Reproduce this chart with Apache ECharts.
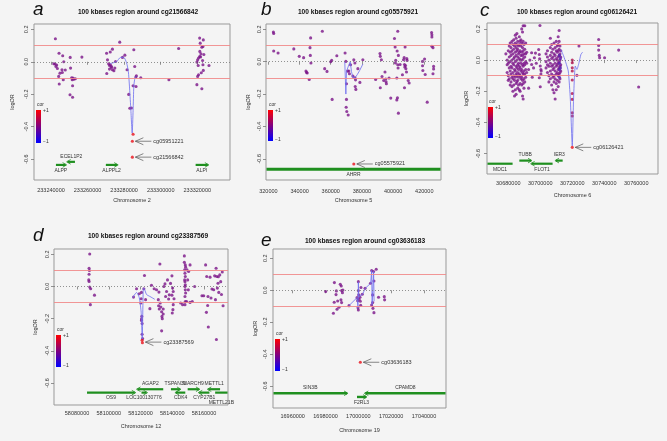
<!DOCTYPE html>
<html><head><meta charset="utf-8">
<script src="https://cdn.jsdelivr.net/npm/echarts@6/dist/echarts.min.js"></script>
<style>html,body{margin:0;padding:0;background:#f4f4f4}#c{width:667px;height:441px}</style>
</head><body><div id="c"></div>
<script>
// ---------------- DATA ----------------
const yTickVals = [-0.6, -0.4, -0.2, 0, 0.2];

// Panel a
const titleA = '100 kbases region around cg21566842';
const chromA = 'Chromosome 2';
const xTicksA = [233240000, 233260000, 233280000, 233300000, 233320000];
const pointsA = [
 [233242400,0.142],[233244400,0.053],[233246400,0.037],[233241500,-0.012],[233242200,-0.014],[233242700,-0.029],
 [233243100,-0.02],[233243500,-0.041],[233244200,-0.09],[233244500,-0.137],[233246000,-0.049],[233246200,-0.066],
 [233246700,-0.111],[233247800,-0.051],[233250500,0.027],[233250700,-0.039],[233251300,-0.098],[233251600,-0.111],
 [233252000,-0.1],[233252500,-0.107],[233253300,-0.105],[233251800,-0.148],[233250400,-0.203],[233251800,-0.219],
 [233256900,0.029],[233244900,-0.07],[233247000,0.0],
 [233270400,0.053],[233272400,0.06],[233273600,0.078],[233270900,0.012],[233271500,-0.012],[233272000,-0.023],
 [233272500,-0.018],[233273100,-0.029],[233270500,-0.072],[233273600,-0.049],[233274400,-0.055],[233274900,-0.039],
 [233275300,0.002],[233277600,0.121],[233279100,0.027],[233280400,0.041],[233281600,-0.049],[233282500,-0.201],
 [233283100,-0.287],[233284000,-0.285],[233285300,0.074],[233284900,-0.148],[233285800,-0.029],[233286400,-0.094],
 [233286700,-0.086],[233286500,-0.152],[233289100,-0.098],[233272000,-0.045],[233273000,-0.035],
 [233304500,-0.111],[233309800,0.082],
 [233321300,0.146],[233323300,0.135],[233321600,0.115],[233322500,0.09],[233323100,0.094],[233321400,0.064],
 [233322000,0.049],[233321300,0.033],[233320700,0.023],[233320200,0.012],[233319800,-0.002],[233320500,-0.023],
 [233323600,0.045],[233326400,-0.023],[233323100,-0.018],[233320700,-0.08],[233320200,-0.09],[233322200,-0.068],
 [233323300,-0.053],[233319800,-0.141],[233322500,-0.166],[233322900,0.008],[233321800,0.03]
];
const redA = [[233284900,-0.447],[233284500,-0.49],[233284500,-0.588]];
const fitA = [[233272500,-0.01],[233275800,0.0],[233278000,0.027],[233279800,0.027],[233281300,-0.005],[233282300,-0.06],
 [233282900,-0.15],[233283600,-0.28],[233284400,-0.44],[233284900,-0.3],[233285300,-0.15],[233285900,-0.1],[233286700,-0.088]];
const annNamesA = ['cg05951221','cg21566842'];
const annPtsA = [[233284500,-0.49],[233284500,-0.588]];
const geneNamesA = ['ALPP','ECEL1P2','ALPPL2','ALPI'];
const geneStartA = [233242700,233249100,233270000,233319100];
const geneEndA = [233248000,233253100,233276200,233325800];
const geneRowA = [1,0,1,1];
const geneStrandA = [1,-1,1,1];

// Panel b
const titleB = '100 kbases region around cg05575921';
const chromB = 'Chromosome 5';
const xTicksB = [320000, 340000, 360000, 380000, 400000, 420000];
const pointsB = [
 [323200,0.184],[323400,0.174],[323400,0.066],[326200,0.054],[336300,0.079],[339800,0.033],[342600,0.025],
 [344100,-0.058],[344500,-0.066],[344900,-0.07],[346200,-0.11],[346700,0.087],[346900,0.039],[347300,-0.008],
 [347100,0.147],[354600,0.188],[356100,-0.043],[357600,-0.06],[360000,0.0],[360600,0.008],[360900,-0.233],
 [363900,0.037],[369200,0.054],[369700,0.002],[370100,-0.136],[370100,-0.233],[369900,-0.281],[370300,-0.308],
 [371200,-0.329],[370800,-0.058],[371600,-0.058],[372000,-0.074],[372700,-0.019],[374200,-0.089],[374800,0.012],
 [375500,-0.008],[375500,-0.099],[375700,-0.153],[376100,-0.171],[375900,-0.112],[377400,-0.043],[378700,-0.128],
 [380600,0.012],
 [391600,0.05],[391800,0.033],[392500,0.012],[388800,-0.11],[391800,-0.161],[392900,-0.091],[394000,-0.116],
 [394800,-0.064],[395300,-0.107],[395500,-0.124],[395700,-0.136],[398500,-0.225],[397400,-0.101],[400900,0.143],
 [401300,0.091],[401700,0.008],[401500,-0.008],[402400,-0.101],[402400,-0.236],[402800,-0.223],[402600,0.066],
 [403000,0.188],[403400,0.039],[403000,-0.019],[403200,-0.039],[404500,-0.017],[406000,-0.081],[406700,0.012],
 [407100,0.025],[407300,-0.017],[407500,-0.033],[407700,0.091],[408000,-0.023],[408200,-0.043],[408600,-0.064],
 [407300,-0.161],[408800,0.019],[409000,0.008],[409700,-0.116],[410300,-0.132],[403400,-0.318],
 [418900,0.002],[418900,-0.025],[419100,-0.054],[420200,0.017],[420600,-0.079],[421900,-0.25],[424700,0.18],
 [424900,0.167],[424900,0.153],[424900,0.095],[425600,0.087],[426000,-0.029],[426000,-0.045],[425600,-0.074]
];
const redB = [[374800,-0.632]];
const fitB = [[369000,0.0],[369700,-0.2],[370100,-0.06],[370800,-0.06],[371600,-0.02],[372500,0.0],[373300,-0.06],
 [374200,-0.1],[375000,-0.1],[375900,-0.095],[377000,-0.08],[378500,-0.055],[380600,-0.015]];
const annNamesB = ['cg05575921'];
const annPtsB = [[374800,-0.632]];
const geneNamesB = ['AHRR'];
const geneStartB = [300000];
const geneEndB = [460000];
const geneRowB = [1];
const geneStrandB = [0];

// Panel c  (columns: x, then the values found at that position)
const titleC = '100 kbases region around cg06126421';
const chromC = 'Chromosome 6';
const xTicksC = [30680000, 30700000, 30720000, 30740000, 30760000];
const columnsC = [
 [30678500,0.04],[30679300,0.0,-0.03,-0.08],[30680000,0.06,-0.02,-0.1,-0.13],[30680600,0.09,0.02,-0.05,-0.12],
 [30681200,0.11,0.05,-0.01,-0.07,-0.16],[30681700,0.08,0.03,-0.04,-0.09,-0.14],
 [30682300,0.12,0.06,0.0,-0.05,-0.11,-0.17],[30682900,0.1,0.04,-0.02,-0.08,-0.12,-0.2],
 [30683400,0.13,0.07,0.01,-0.03,-0.1,-0.16],[30683900,0.09,0.02,-0.06,-0.13,-0.23],
 [30684400,0.16,0.11,0.05,-0.01,-0.07,-0.11,-0.19],[30684900,0.14,0.08,0.03,-0.04,-0.09,-0.15,-0.22],
 [30685400,0.17,0.1,0.06,0.0,-0.05,-0.1,-0.14],[30685900,0.12,0.07,0.02,-0.03,-0.08,-0.13,-0.18],
 [30686400,0.09,0.04,-0.02,-0.06,-0.11,-0.16],[30686900,0.15,0.1,0.05,0.01,-0.04,-0.09,-0.19],
 [30687400,0.12,0.06,0.0,-0.05,-0.1,-0.15,-0.2],[30687900,0.13,0.09,0.03,-0.02,-0.07,-0.12],
 [30688400,0.2,0.11,0.05,0.0,-0.06,-0.11,-0.16],[30688900,0.18,0.08,0.03,-0.03,-0.08,-0.13,-0.23],
 [30689300,0.22,0.12,0.06,0.01,-0.04,-0.09,-0.15,-0.25],[30689800,0.1,0.04,-0.02,-0.07,-0.12,-0.18],
 [30690300,0.22,0.07,0.02,-0.03,-0.09,-0.14],[30690900,0.11,0.04,-0.01,-0.06,-0.11],
 [30691500,0.05,-0.02,-0.08],[30692700,-0.06,-0.18],
 [30693500,0.0],[30694600,0.047,-0.028],[30695000,-0.11],[30695800,-0.05],[30696300,0.015],[30697000,0.045],
 [30697500,-0.02],[30699000,0.068],[30699400,0.036,-0.113],[30699600,0.009],[30699800,0.222],[30700000,-0.038,-0.171],
 [30700400,-0.06,-0.09],[30700600,-0.07],
 [30703600,0.04,-0.01,-0.05],[30704500,0.06,0.02,-0.03,-0.08],[30705400,0.0,-0.04,-0.1,-0.14],
 [30706300,0.14,0.08,0.03,-0.02,-0.07,-0.12],[30707100,0.1,0.05,0.01,-0.04,-0.09,-0.16],
 [30707900,0.07,0.02,-0.03,-0.06,-0.11,-0.19],[30708600,0.11,0.04,0.0,-0.05,-0.1,-0.14,-0.21],
 [30709300,0.08,0.03,-0.02,-0.07,-0.12,-0.25],[30710000,0.12,0.06,0.01,-0.04,-0.09,-0.15,-0.19],
 [30710600,0.09,0.05,0.0,-0.03,-0.08,-0.13],[30711200,0.15,0.1,0.06,0.02,-0.02,-0.06,-0.1,-0.17],
 [30711800,0.19,0.12,0.07,0.03,-0.01,-0.05,-0.09,-0.14],[30712300,0.09,0.04,0.0,-0.04,-0.08,-0.12],
 [30712800,0.06,0.02,-0.03,-0.07],
 [30722900,-0.098],[30724200,0.09],[30736500,0.132,0.094,0.064],[30736900,0.03],[30737100,0.015],[30740200,0.015],
 [30749000,0.064],[30761500,-0.173]
];
const bluishC = [[30712000,0.03],[30712000,-0.02],[30712000,-0.06],[30712000,-0.11],[30712600,0.01],[30712600,-0.05]];
const midC = [[30720000,0.0],[30720000,-0.017],[30720000,-0.049],[30720000,-0.07],[30720000,-0.128],
 [30720000,-0.214],[30720000,-0.252],[30720000,-0.338],[30720000,-0.359]];
const redC = [[30720000,-0.56]];
const fitC = [[30712900,0.068],[30714600,0.026],[30716000,-0.017],[30717500,-0.07],[30718800,-0.252],[30720000,-0.551],
 [30720800,-0.252],[30721900,-0.038],[30722900,-0.06],[30724200,-0.017],[30725400,0.036],[30726500,0.051]];
const annNamesC = ['cg06126421'];
const annPtsC = [[30720000,-0.56]];
const geneNamesC = ['MDC1','TUBB','FLOT1','IER3'];
const geneStartC = [30660000,30686900,30694600,30709800];
const geneEndC = [30682700,30694200,30707700,30714000];
const geneRowC = [1,0,1,0];
const geneStrandC = [-1,1,-1,-1];

// Panel d
const titleD = '100 kbases region around cg23387569';
const chromD = 'Chromosome 12';
const xTicksD = [58080000, 58100000, 58120000, 58140000, 58160000];
const pointsD = [
 [58088000,0.202],[58087600,0.113],[58087800,0.099],[58087600,0.076],[58087400,0.041],[58087600,0.031],
 [58088000,-0.004],[58088600,-0.014],[58091000,-0.054],[58088400,-0.113],
 [58115600,-0.066],[58117500,-0.014],[58119200,-0.045],[58120600,-0.037],[58120400,-0.076],[58120200,-0.103],
 [58120800,-0.186],[58120600,-0.202],[58120600,-0.212],[58121000,-0.231],[58121000,-0.297],[58121300,-0.324],
 [58122100,-0.014],[58122500,0.068],[58123200,-0.082],[58125900,-0.138],[58126900,0.008],[58128600,-0.014],
 [58130100,-0.02],[58131600,-0.035],[58132200,0.14],[58131200,-0.082],[58131400,-0.12],[58131800,-0.14],
 [58132400,-0.103],[58132800,-0.128],[58133300,-0.157],[58133500,-0.186],[58133700,-0.2],[58134300,-0.14],
 [58134700,0.0],[58133300,-0.276],[58134300,-0.171],[58135400,0.016],[58135800,-0.062],[58136400,-0.031],
 [58137000,0.041],[58137700,-0.078],[58138100,-0.052],[58138900,0.019],[58139800,0.066],[58140000,-0.165],
 [58140400,-0.144],[58140600,-0.113],[58140600,-0.031],[58141100,-0.076],[58140200,-0.01],[58139800,-0.054],
 [58147600,0.19],[58148200,0.134],[58147800,0.103],[58148000,0.082],[58148200,0.062],[58147800,0.041],
 [58148000,0.029],[58148200,0.01],[58148000,0.0],[58148200,-0.021],[58148400,-0.041],[58148000,-0.062],
 [58148200,-0.093],[58148000,-0.113],[58149300,0.103],[58150300,0.093],[58151200,0.134],[58149700,0.041],
 [58150100,-0.021],[58149000,-0.093],[58146500,-0.113],[58145300,-0.103],[58151200,-0.099],[58152600,-0.093],
 [58154100,0.0],[58147600,0.15],[58148400,0.12],
 [58158700,-0.058],[58159800,-0.058],[58161000,0.134],[58161700,0.062],[58161500,-0.161],[58162300,-0.118],
 [58162500,-0.062],[58162700,-0.252],[58163800,0.058],[58164400,-0.072],[58165000,-0.016],[58166100,-0.02],
 [58166700,0.066],[58167200,-0.082],[58167600,0.113],[58167800,-0.33],[58168000,0.062],[58168400,-0.01],
 [58168800,0.02],[58169000,0.06],[58169300,-0.037],[58169900,0.072],[58170500,0.03],[58171000,-0.05],
 [58171500,0.09],[58172000,-0.12]
];
const redD = [[58121000,-0.335],[58121200,-0.35]];
const fitD = [[58114900,-0.072],[58117500,-0.037],[58119200,-0.07],[58120400,-0.16],[58121050,-0.33],[58121700,-0.02],
 [58122100,-0.01],[58123800,-0.05],[58125900,-0.062],[58129000,-0.08]];
const annNamesD = ['cg23387569'];
const annPtsD = [[58121200,-0.346]];
const geneNamesD = ['OS9','AGAP2','LOC100130776','TSPAN31','CDK4','MARCH9','CYP27B1','METTL1','METTL21B'];
const geneStartD = [58086300,58118100,58120600,58139150,58142300,58149700,58157000,58162700,58167000];
const geneEndD = [58116400,58134300,58123800,58144830,58148200,58156800,58163400,58170100,58176000];
const geneRowD = [1,0,1,0,1,0,1,0,2];
const geneStrandD = [1,-1,1,1,-1,1,-1,-1,1];

// Panel e
const titleE = '100 kbases region around cg03636183';
const chromE = 'Chromosome 19';
const xTicksE = [16960000, 16980000, 17000000, 17020000, 17040000];
const pointsE = [
 [16980100,-0.008],[16984800,-0.144],[16985300,-0.075],[16985400,0.048],[16986400,-0.027],[16986600,-0.004],
 [16987000,-0.119],[16987400,-0.067],[16988200,-0.106],[16989000,0.037],[16989600,0.027],[16989800,-0.002],
 [16990300,-0.015],[16989400,-0.06],[16989800,-0.077],[16990600,0.002],[16994300,-0.096],[16999200,-0.046],
 [16999600,-0.065],[16999800,-0.11],[17000000,-0.123],[17000000,0.054],[17000000,-0.002],[17000200,-0.029],
 [17000400,-0.056],[17001000,-0.044],[17001200,-0.069],[17001400,-0.094],[17001600,0.017],[17002400,-0.025],
 [17004100,0.012],[17007400,0.044],[17008100,0.123],[17008700,-0.029],[17009300,0.117],[17009500,0.058],
 [17008100,-0.092],[17008700,-0.077],[17008900,-0.113],[17009500,-0.14],[17010900,0.131],[17012300,-0.044],
 [17015800,-0.04],[17016000,-0.06]
];
const redE = [[17001200,-0.45]];
const fitE = [[16994300,-0.096],[16999200,-0.046],[16999800,-0.11],[17000000,0.05],[17000300,-0.04],[17001500,-0.05],
 [17002600,-0.025],[17004200,0.012],[17007500,0.044],[17008100,0.123],[17008400,-0.09],[17009300,0.117],[17009600,-0.07]];
const annNamesE = ['cg03636183'];
const annPtsE = [[17001200,-0.45]];
const geneNamesE = ['SIN3B','F2RL3','CPAMD8'];
const geneStartE = [16930000,16999180,17004250];
const geneEndE = [16993100,17004660,17080000];
const geneRowE = [0,1,0];
const geneStrandE = [1,1,-1];

// ---------------- LAYOUT / STYLE ----------------
const FONT = '"Liberation Sans", Arial, Helvetica, sans-serif';
const PURPLE = '#7b1488', RED = '#e8101a', MAGENTA = '#b0104e', BLUISH = '#5a22b0';
const panels = [
 {key:'a', title:titleA, chrom:chromA, ticks:xTicksA, pts:pointsA, red:redA, fit:fitA, fitSmooth:0.2,
  ann:annPtsA, annNames:annNamesA, gn:geneNamesA, gs:geneStartA, ge:geneEndA, gr:geneRowA, gd:geneStrandA,
  grid:{left:34, top:24, width:196, height:156}, x:[233230700,233337900], y:[-0.729,0.233], barH:2.2,
  rowY:[-0.617,-0.636,-0.636], xMargin:7, xGap:17, yMargin:5, yGap:19,
  titleX:138, titleY:12, letterX:33, letterY:10, leg:{x:36, y:110, h:33}},
 {key:'b', title:titleB, chrom:chromB, ticks:xTicksB, pts:pointsB, red:redB, fit:fitB, fitSmooth:false,
  ann:annPtsB, annNames:annNamesB, gn:geneNamesB, gs:geneStartB, ge:geneEndB, gr:geneRowB, gd:geneStrandB,
  grid:{left:266, top:24, width:175, height:156}, x:[318460,430740], y:[-0.731,0.233], barH:3,
  rowY:[-0.645,-0.665,-0.665], xMargin:8, xGap:17, yMargin:4, yGap:15,
  titleX:358, titleY:12, letterX:261, letterY:10, leg:{x:268, y:110, h:31}},
 {key:'c', title:titleC, chrom:chromC, ticks:xTicksC, pts:null, red:redC, fit:fitC, fitSmooth:0.2,
  ann:annPtsC, annNames:annNamesC, gn:geneNamesC, gs:geneStartC, ge:geneEndC, gr:geneRowC, gd:geneStrandC,
  grid:{left:487, top:23, width:171, height:151}, x:[30666700,30773600], y:[-0.731,0.238], barH:2.2,
  rowY:[-0.645,-0.665,-0.665], xMargin:6, xGap:18, yMargin:6, yGap:18,
  titleX:577, titleY:12, letterX:480, letterY:11, leg:{x:488, y:107, h:31}},
 {key:'d', title:titleD, chrom:chromD, ticks:xTicksD, pts:pointsD, red:redD, fit:fitD, fitSmooth:0.2,
  ann:annPtsD, annNames:annNamesD, gn:geneNamesD, gs:geneStartD, ge:geneEndD, gr:geneRowD, gd:geneStrandD,
  grid:{left:54, top:249, width:174, height:156}, x:[58065500,58175100], y:[-0.737,0.233], barH:2.2,
  rowY:[-0.639,-0.66,-0.66], xMargin:5, xGap:18, yMargin:4, yGap:16,
  titleX:148, titleY:236, letterX:33, letterY:236, leg:{x:56, y:335, h:32}},
 {key:'e', title:titleE, chrom:chromE, ticks:xTicksE, pts:pointsE, red:redE, fit:fitE, fitSmooth:false,
  ann:annPtsE, annNames:annNamesE, gn:geneNamesE, gs:geneStartE, ge:geneEndE, gr:geneRowE, gd:geneStrandE,
  grid:{left:273, top:249, width:173, height:159}, x:[16948000,17053400], y:[-0.736,0.258], barH:2.4,
  rowY:[-0.644,-0.667,-0.667], xMargin:5, xGap:19, yMargin:5, yGap:15,
  titleX:365, titleY:241, letterX:261, letterY:241, leg:{x:275, y:339, h:32}}
];

// expand the column table of panel c into points
const pointsC = [];
columnsC.forEach(col => { for (let k = 1; k < col.length; k++) pointsC.push([col[0], col[k]]); });
panels[2].pts = pointsC;

const txt = {fontSize:5.5, color:'#333', fontFamily:FONT};

function geneRender(p) {
  return function (params, api) {
    const i = params.dataIndex;
    const row = p.gr[i];
    const yv = p.rowY[row];
    const a = api.coord([api.value(0), yv]);
    const b = api.coord([api.value(1), yv]);
    const cs = params.coordSys;
    const x1 = Math.max(a[0], cs.x + 0.5), x2 = Math.min(b[0], cs.x + cs.width - 0.5);
    if (x2 <= x1) return null;
    const py = a[1], h = p.barH;
    const ch = [{type:'rect', shape:{x:x1, y:py - h / 2, width:x2 - x1, height:h}, style:{fill:'#1f8f1f'}}];
    const s = p.gd[i];
    if (s === 1 && b[0] <= cs.x + cs.width) ch.push({type:'polyline', shape:{points:[[x2 - 3, py - 2.3],[x2 + 1, py],[x2 - 3, py + 2.3]]}, style:{stroke:'#1f8f1f', fill:null, lineWidth:0.8}});
    if (s === -1 && a[0] >= cs.x) ch.push({type:'polyline', shape:{points:[[x1 + 3, py - 2.3],[x1 - 1, py],[x1 + 3, py + 2.3]]}, style:{stroke:'#1f8f1f', fill:null, lineWidth:0.8}});
    const above = row === 0;
    ch.push({type:'text', x:(x1 + x2) / 2, y: above ? py - 3 : py + 3 + (row === 2 ? 5 : 0),
      style:{text:p.gn[i], fontSize:5, fill:'#333', align:'center', verticalAlign: above ? 'bottom' : 'top', fontFamily:FONT}});
    return {type:'group', children:ch};
  };
}
function annRender(names) {
  return function (params, api) {
    const q = api.coord([api.value(0), api.value(1)]);
    const x = q[0], y = q[1];
    return {type:'group', children:[
      {type:'polyline', shape:{points:[[x + 11, y - 3.5],[x + 3, y],[x + 11, y + 3.5]]}, style:{stroke:'#555', fill:null, lineWidth:0.7}},
      {type:'line', shape:{x1:x + 3, y1:y, x2:x + 19, y2:y}, style:{stroke:'#555', lineWidth:0.7}},
      {type:'text', x:x + 21, y:y, style:{text:names[params.dataIndex], fontSize:5.5, fill:'#333', verticalAlign:'middle', fontFamily:FONT}}
    ]};
  };
}

const option = {backgroundColor:'#f4f4f4', animation:false, grid:[], xAxis:[], yAxis:[], series:[], graphic:[]};
panels.forEach((p, i) => {
  option.grid.push(Object.assign({show:true, borderColor:'#999', borderWidth:1, backgroundColor:'transparent'}, p.grid));
  option.xAxis.push({type:'value', gridIndex:i, min:p.x[0], max:p.x[1], name:p.chrom, nameLocation:'middle', nameGap:p.xGap,
    nameTextStyle:txt, axisLine:{show:false}, splitLine:{show:false},
    axisTick:{show:true, customValues:p.ticks, length:3, lineStyle:{color:'#777', width:0.8}},
    axisLabel:Object.assign({customValues:p.ticks, margin:p.xMargin, formatter:v => String(Math.round(v))}, txt)});
  option.yAxis.push({type:'value', gridIndex:i, min:p.y[0], max:p.y[1], name:'logOR', nameLocation:'middle', nameGap:p.yGap,
    nameRotate:90, nameTextStyle:txt, axisLine:{show:false}, splitLine:{show:false},
    axisTick:{show:true, customValues:yTickVals, length:3, lineStyle:{color:'#777', width:0.8}},
    axisLabel:Object.assign({customValues:yTickVals, margin:p.yMargin, rotate:90, formatter:v => v.toFixed(1)}, txt)});
  option.series.push({type:'scatter', xAxisIndex:i, yAxisIndex:i, data:p.pts, symbolSize:3.1, itemStyle:{color:PURPLE}, z:3,
    markLine:{silent:true, symbol:['none','none'], label:{show:false}, animation:false,
      data:[{yAxis:0.1, lineStyle:{color:'#f08a8a', type:'solid', width:0.9}},
            {yAxis:-0.1, lineStyle:{color:'#f08a8a', type:'solid', width:0.9}},
            {yAxis:0, lineStyle:{color:'#777', type:[1,2], width:0.8}}]}});
  if (p.key === 'c') {
    option.series.push({type:'scatter', xAxisIndex:i, yAxisIndex:i, data:bluishC, symbolSize:3.1, itemStyle:{color:BLUISH}, z:3});
    option.series.push({type:'scatter', xAxisIndex:i, yAxisIndex:i, data:midC, symbolSize:3.1, itemStyle:{color:MAGENTA}, z:3});
  }
  option.series.push({type:'line', xAxisIndex:i, yAxisIndex:i, data:p.fit, showSymbol:false, smooth:p.fitSmooth,
    lineStyle:{color:'#6c6cf0', width:0.8}, z:4});
  option.series.push({type:'scatter', xAxisIndex:i, yAxisIndex:i, data:p.red, symbolSize:3.1, itemStyle:{color:RED}, z:5});
  option.series.push({type:'custom', xAxisIndex:i, yAxisIndex:i, renderItem:annRender(p.annNames), data:p.ann, z:6, silent:true});
  option.series.push({type:'custom', xAxisIndex:i, yAxisIndex:i, renderItem:geneRender(p), clip:false,
    data:p.gs.map((s, k) => [s, p.ge[k]]), encode:{x:[0,1]}, z:6, silent:true});
  // titles, letters and colour legend
  option.graphic.push({type:'text', x:p.titleX, y:p.titleY, style:{text:p.title, fontSize:6.6, fontWeight:'bold', fill:'#111', align:'center', verticalAlign:'middle', fontFamily:FONT}});
  option.graphic.push({type:'text', x:p.letterX, y:p.letterY, style:{text:p.key, fontSize:19, fontStyle:'italic', fill:'#111', align:'left', verticalAlign:'middle', fontFamily:FONT}});
  const L = p.leg;
  option.graphic.push({type:'text', x:L.x + 1, y:L.y - 5, style:{text:'cor', fontSize:5, fill:'#333', verticalAlign:'middle', fontFamily:FONT}});
  option.graphic.push({type:'rect', shape:{x:L.x, y:L.y, width:5, height:L.h},
    style:{fill:new echarts.graphic.LinearGradient(0,0,0,1,[{offset:0,color:'#ff0000'},{offset:0.5,color:'#800080'},{offset:1,color:'#0000ff'}])}});
  option.graphic.push({type:'text', x:L.x + 7, y:L.y + 1, style:{text:'+1', fontSize:5, fill:'#333', verticalAlign:'middle', fontFamily:FONT}});
  option.graphic.push({type:'text', x:L.x + 7, y:L.y + L.h - 1, style:{text:'\u22121', fontSize:5, fill:'#333', verticalAlign:'middle', fontFamily:FONT}});
});

const chart = echarts.init(document.getElementById('c'), null, {renderer:'canvas'});
chart.setOption(option);
</script></body></html>
